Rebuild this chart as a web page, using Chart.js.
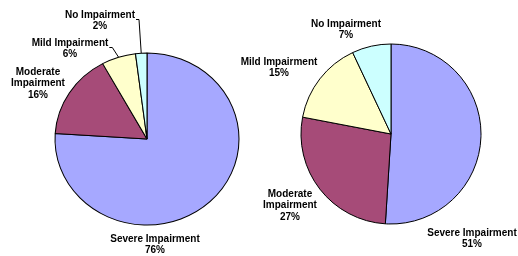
<!DOCTYPE html>
<html>
<head>
<meta charset="utf-8">
<script src="https://cdn.jsdelivr.net/npm/chart.js@4/dist/chart.umd.min.js"></script>
<style>
body { margin: 0; background: #fff; }
#wrap { position: relative; width: 518px; height: 256px; }
canvas { position: absolute; left: 0; top: 0; }
</style>
</head>
<body>
<div id="wrap">
<canvas id="leftPie" width="518" height="256"></canvas>
<canvas id="rightPie" width="518" height="256"></canvas>
</div>
<script>
var categories = [['Severe Impairment'], ['Moderate', 'Impairment'], ['Mild Impairment'], ['No Impairment']];
var leftValues = [76, 16, 6, 2];
var rightValues = [51, 27, 15, 7];
var sliceColors = ['#a6a8ff', '#a64b78', '#ffffcc', '#ccffff'];

// where the labels sit, relative to the pie centre (first line centre)
var leftLabelPos = [[8, 100], [-109, -67], [-77, -96], [-47, -124]];
var rightLabelPos = [[81, 99], [-101, 60], [-112, -72], [-45, -110]];
var leftLeaders = [false, false, true, true];
var rightLeaders = [false, false, false, false];

var lineH = 11.5;

// squash the left pie a little, it is slightly oval in the original
function ovalPlugin(sx, sy) {
    return {
        id: 'oval',
        beforeDatasetsDraw: function(chart) {
            var arc = chart.getDatasetMeta(0).data[0];
            var ctx = chart.ctx;
            ctx.save();
            ctx.translate(arc.x, arc.y);
            ctx.scale(sx, sy);
            ctx.translate(-arc.x, -arc.y);
        },
        afterDatasetsDraw: function(chart) {
            chart.ctx.restore();
        }
    };
}

function labelPlugin(values, pos, leaders, sx, sy) {
    return {
        id: 'sliceLabels',
        afterDraw: function(chart) {
            var ctx = chart.ctx;
            var arcs = chart.getDatasetMeta(0).data;
            ctx.save();
            ctx.font = 'bold 10px "Liberation Sans", Arial, sans-serif';
            ctx.fillStyle = '#000';
            ctx.textAlign = 'center';
            ctx.textBaseline = 'middle';
            arcs.forEach(function(arc, i) {
                var lines = categories[i].concat([values[i] + '%']);
                var x = arc.x + pos[i][0];
                var y = arc.y + pos[i][1];
                lines.forEach(function(t, k) {
                    ctx.fillText(t, x, y + k * lineH);
                });
                if (leaders[i]) {
                    var w = ctx.measureText(lines[0]).width;
                    var mid = (arc.startAngle + arc.endAngle) / 2;
                    var ex = arc.x + Math.cos(mid) * arc.outerRadius * sx;
                    var ey = arc.y + Math.sin(mid) * arc.outerRadius * sy;
                    var lx = x + w / 2 + 1;
                    var ly = y + 4.5;
                    ctx.strokeStyle = '#000';
                    ctx.lineWidth = 1;
                    ctx.beginPath();
                    ctx.moveTo(lx, ly);
                    ctx.lineTo(lx + 3, ly);
                    ctx.lineTo(ex, ey);
                    ctx.stroke();
                }
            });
            ctx.restore();
        }
    };
}

function makePie(id, values, radius, padding, plugins) {
    var ctx = document.getElementById(id).getContext('2d');
    return new Chart(ctx, {
        type: 'pie',
        data: {
            labels: categories.map(function(c) { return c.join(' '); }),
            datasets: [{
                data: values,
                backgroundColor: sliceColors,
                borderColor: '#000',
                borderWidth: 1
            }]
        },
        options: {
            responsive: false,
            animation: false,
            radius: radius,
            layout: { padding: padding },
            plugins: {
                legend: { display: false },
                tooltip: { enabled: false }
            }
        },
        plugins: plugins
    });
}

window.onload = function() {
    makePie('leftPie', leftValues, 89, { left: 57, right: 281, top: 49, bottom: 27 },
        [ovalPlugin(92 / 89, 86 / 89), labelPlugin(leftValues, leftLabelPos, leftLeaders, 92 / 89, 86 / 89)]);
    makePie('rightPie', rightValues, 90, { left: 301, right: 37, top: 44, bottom: 32 },
        [labelPlugin(rightValues, rightLabelPos, rightLeaders, 1, 1)]);
};
</script>
</body>
</html>
